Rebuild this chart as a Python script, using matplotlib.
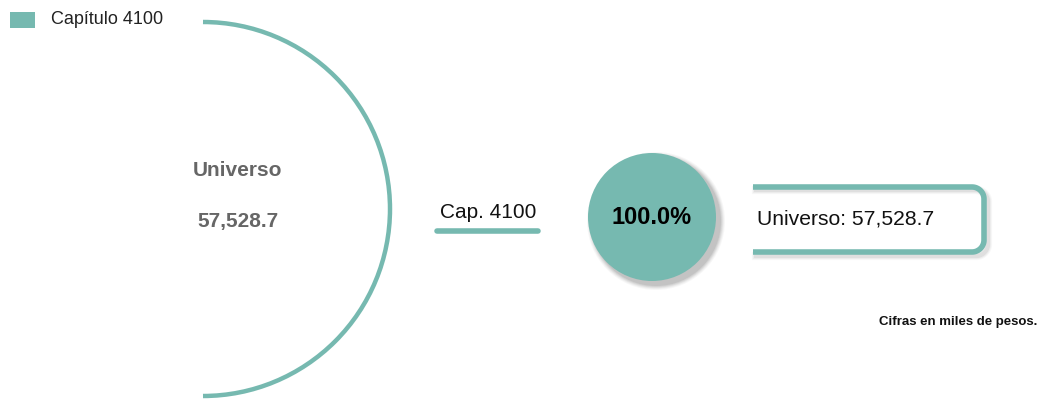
import numpy as np
import matplotlib
matplotlib.use("Agg")
import matplotlib.pyplot as plt
from matplotlib.patches import Arc, Circle, Rectangle

plt.rcParams['font.family'] = ['Liberation Sans', 'DejaVu Sans']

# data
categorias = ["Capítulo 4100"]
etiquetas = ["Cap. 4100"]
montos = [57528.7]
universo = sum(montos)
porcentajes = [m / universo * 100 for m in montos]

teal = "#76b9b0"
gris = "#666666"

fig = plt.figure(figsize=(10.39, 4.01), dpi=100)
ax = fig.add_axes([0, 0, 1, 1])
ax.set_xlim(0, 1039)
ax.set_ylim(401, 0)
ax.set_aspect("equal")
ax.axis("off")

# legend
ax.add_patch(Rectangle((10, 12), 25, 16, color=teal, lw=0))
ax.text(51, 20, categorias[0], fontsize=13, va="center", ha="left", color="#222222")

# big half circle
ax.add_patch(Arc((203, 209), 374, 374, theta1=-90, theta2=90, color=teal, lw=3.2))
ax.text(238, 171, "Universo", fontsize=15, fontweight="bold", color=gris, ha="center", va="center")
ax.text(238, 222, f"{universo:,.1f}", fontsize=15, fontweight="bold", color=gris, ha="center", va="center")

# category label with underline
ax.text(488, 212, etiquetas[0], fontsize=15, ha="center", va="center", color="#111111")
ax.plot([437, 538], [231, 231], color=teal, lw=4, solid_capstyle="round")

# percentage circle with soft shadow
cx, cy, r = 652, 217, 64
for i, a in enumerate([0.03, 0.04, 0.05, 0.06, 0.07]):
    ax.add_patch(Circle((cx + 4, cy + 4), r + 5 - i, color="black", alpha=a, lw=0))
ax.add_patch(Circle((cx, cy), r, color=teal, lw=0))
ax.text(cx, cy, f"{porcentajes[0]:.1f}%", fontsize=17, fontweight="bold", ha="center", va="center", color="black")

# open box with rounded right side
def caja(x0, x1, y0, y1, rad, **kw):
    th1 = np.linspace(-np.pi / 2, 0, 20)
    th2 = np.linspace(0, np.pi / 2, 20)
    xs = [x0, x1 - rad] + list(x1 - rad + rad * np.cos(th1)) + list(x1 - rad + rad * np.cos(th2)) + [x0]
    ys = [y0, y0] + list(y0 + rad + rad * np.sin(th1)) + list(y1 - rad + rad * np.sin(th2)) + [y1]
    ax.plot(xs, ys, **kw)

for i, a in enumerate([0.03, 0.04, 0.06]):
    caja(756, 988, 190, 256, 12, color="black", alpha=a, lw=6 - 1.5 * i)
caja(753, 984, 187, 252, 12, color=teal, lw=4, solid_capstyle="butt")
ax.text(757, 219, f"Universo: {universo:,.1f}", fontsize=15.2, ha="left", va="center", color="#111111")

ax.text(1037, 322, "Cifras en miles de pesos.", fontsize=9.5, fontweight="bold", ha="right", va="center", color="#111111")

fig.savefig("out.png", dpi=100)
